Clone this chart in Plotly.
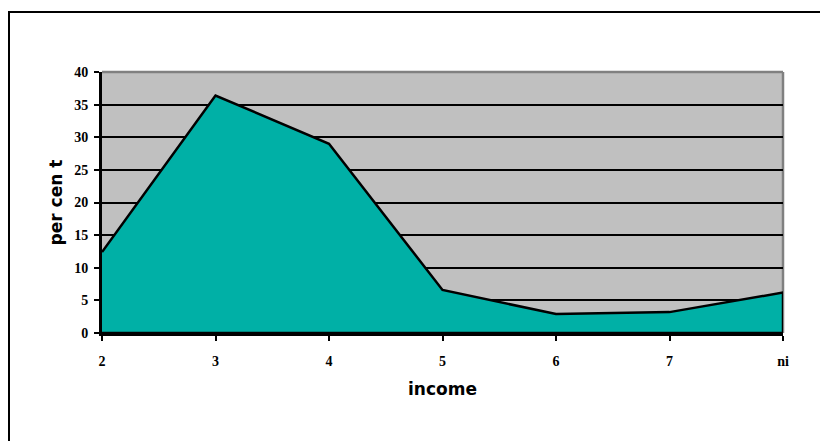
import plotly.graph_objects as go

# income bands and share of respondents (per cent)
categories = ["2", "3", "4", "5", "6", "7", "ni"]
percent = [12.4, 36.4, 29.0, 6.6, 2.9, 3.2, 6.2]
y_ticks = [0, 5, 10, 15, 20, 25, 30, 35, 40]

TEAL = "#00B0A6"
PLOT_GRAY = "#C0C0C0"

W, H = 820, 441
L, R, T, B = 102, 37, 72, 108
pw, ph = W - L - R, H - T - B

def px_x(px):
    return (px - L) / pw

def px_y(py):
    return (H - B - py) / ph

xi = list(range(len(categories)))
# closed polygon so the outline includes the right-hand edge
poly_x = xi + [xi[-1], xi[0]]
poly_y = percent + [0, 0]

tick_font = dict(family="Liberation Serif", size=14, color="black", weight="bold")

fig = go.Figure()
fig.add_trace(go.Scatter(
    x=poly_x, y=poly_y, mode="lines", fill="toself",
    fillcolor=TEAL, line=dict(color="black", width=2.5),
    hoverinfo="skip", showlegend=False,
))

fig.update_layout(
    width=W, height=H,
    margin=dict(l=L, r=R, t=T, b=B),
    paper_bgcolor="white",
    plot_bgcolor=PLOT_GRAY,
    showlegend=False,
    xaxis=dict(
        range=[0, len(categories) - 1],
        tickmode="array", tickvals=xi, ticktext=categories,
        showgrid=False, zeroline=False,
        showline=True, linecolor="black", linewidth=3,
        ticks="outside", ticklen=5, tickwidth=2, tickcolor="black",
        tickfont=tick_font,
        ticklabelstandoff=8,
        title=dict(text="income", standoff=16,
                   font=dict(family="DejaVu Sans", size=17, color="black", weight="bold")),
    ),
    yaxis=dict(
        range=[0, 40],
        tickmode="array", tickvals=y_ticks,
        showgrid=True, gridcolor="black", gridwidth=2,
        zeroline=False,
        showline=True, linecolor="black", linewidth=3,
        ticks="outside", ticklen=5, tickwidth=2, tickcolor="black",
        tickfont=tick_font,
        ticklabelstandoff=3,
        title=dict(text="per cen t", standoff=8,
                   font=dict(family="DejaVu Sans", size=17, color="black", weight="bold")),
    ),
    shapes=[
        # grey frame along the top and right of the plotting area
        dict(type="line", xref="paper", yref="paper", x0=0, x1=1, y0=1, y1=1,
             line=dict(color="#808080", width=2.5), layer="between"),
        dict(type="line", xref="paper", yref="paper", x0=1, x1=1, y0=0, y1=1,
             line=dict(color="#808080", width=2.5), layer="between"),
        # outer chart border
        dict(type="rect", xref="paper", yref="paper",
             x0=px_x(9), x1=px_x(835), y0=px_y(455), y1=px_y(12),
             line=dict(color="black", width=2), fillcolor="rgba(0,0,0,0)",
             layer="above"),
    ],
)

fig.write_html("out.html")
